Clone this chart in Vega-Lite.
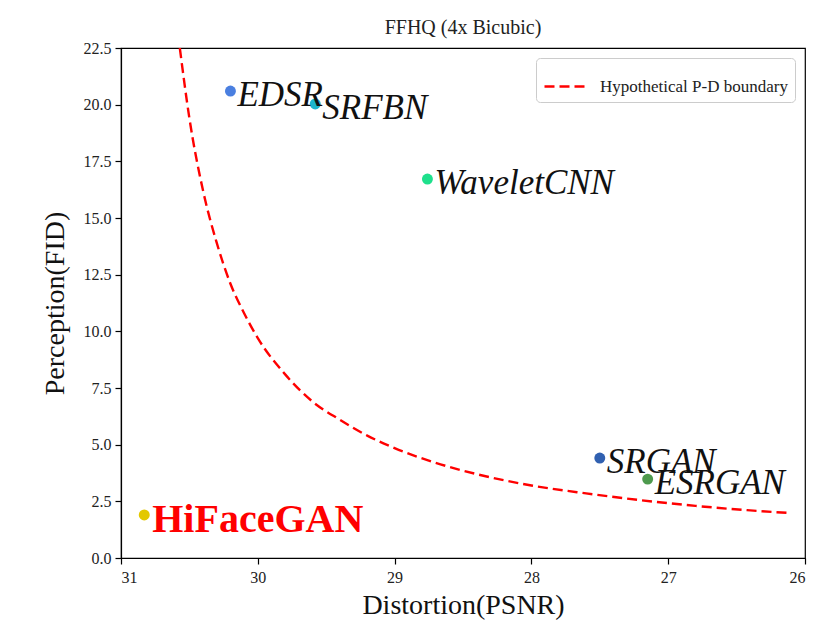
{
  "$schema": "https://vega.github.io/schema/vega-lite/v6.json",
  "width": 684,
  "height": 510,
  "autosize": {"type": "none"},
  "padding": {"left": 121, "top": 48, "right": 31, "bottom": 70},
  "background": "white",
  "config": {
    "font": "Liberation Serif",
    "view": {"stroke": "black", "strokeWidth": 1.2},
    "axis": {"grid": false, "domainColor": "black", "tickColor": "black", "domainWidth": 1.2, "tickWidth": 1.2, "tickSize": 6, "labelColor": "#222", "titleColor": "#111", "labelFont": "Liberation Serif", "titleFont": "Liberation Serif", "labelFontSize": 16, "titleFontSize": 28, "titleFontWeight": "normal"}
  },
  "title": {"text": "FFHQ (4x Bicubic)", "fontSize": 20, "fontWeight": "normal", "font": "Liberation Serif", "color": "#222", "offset": 2},
  "datasets": {
    "methods": [
      {"method": "EDSR", "psnr": 30.2, "fid": 20.6},
      {"method": "SRFBN", "psnr": 29.58, "fid": 20.03},
      {"method": "WaveletCNN", "psnr": 28.76, "fid": 16.72},
      {"method": "SRGAN", "psnr": 27.5, "fid": 4.41},
      {"method": "ESRGAN", "psnr": 27.15, "fid": 3.48},
      {"method": "HiFaceGAN", "psnr": 30.83, "fid": 1.9}
    ],
    "boundary": [
      {"series": "Hypothetical P-D boundary", "psnr": 30.57, "fid": 22.5},
      {"series": "Hypothetical P-D boundary", "psnr": 30.5, "fid": 19.4},
      {"series": "Hypothetical P-D boundary", "psnr": 30.4, "fid": 16.2},
      {"series": "Hypothetical P-D boundary", "psnr": 30.3, "fid": 13.9},
      {"series": "Hypothetical P-D boundary", "psnr": 30.2, "fid": 12.1},
      {"series": "Hypothetical P-D boundary", "psnr": 30.1, "fid": 10.8},
      {"series": "Hypothetical P-D boundary", "psnr": 30.0, "fid": 9.7},
      {"series": "Hypothetical P-D boundary", "psnr": 29.8, "fid": 8.1},
      {"series": "Hypothetical P-D boundary", "psnr": 29.6, "fid": 6.9},
      {"series": "Hypothetical P-D boundary", "psnr": 29.4, "fid": 6.1},
      {"series": "Hypothetical P-D boundary", "psnr": 29.2, "fid": 5.4},
      {"series": "Hypothetical P-D boundary", "psnr": 29.0, "fid": 4.85},
      {"series": "Hypothetical P-D boundary", "psnr": 28.7, "fid": 4.2},
      {"series": "Hypothetical P-D boundary", "psnr": 28.4, "fid": 3.7},
      {"series": "Hypothetical P-D boundary", "psnr": 28.0, "fid": 3.2},
      {"series": "Hypothetical P-D boundary", "psnr": 27.6, "fid": 2.85},
      {"series": "Hypothetical P-D boundary", "psnr": 27.2, "fid": 2.55},
      {"series": "Hypothetical P-D boundary", "psnr": 26.8, "fid": 2.3},
      {"series": "Hypothetical P-D boundary", "psnr": 26.4, "fid": 2.1},
      {"series": "Hypothetical P-D boundary", "psnr": 26.1, "fid": 1.98}
    ]
  },
  "layer": [
    {
      "data": {"name": "boundary"},
      "mark": {"type": "line", "strokeWidth": 2.4, "strokeDash": [10, 5], "interpolate": "monotone", "clip": true},
      "encoding": {
        "x": {"field": "psnr", "type": "quantitative", "scale": {"domain": [26, 31], "reverse": true, "nice": false, "zero": false}, "axis": {"values": [26, 27, 28, 29, 30, 31], "format": "d", "title": "Distortion(PSNR)", "labelPadding": 5, "titlePadding": 6}},
        "y": {"field": "fid", "type": "quantitative", "scale": {"domain": [0, 22.5], "nice": false}, "axis": {"values": [0, 2.5, 5, 7.5, 10, 12.5, 15, 17.5, 20, 22.5], "format": ".1f", "title": "Perception(FID)", "labelPadding": 4, "titlePadding": 14}},
        "stroke": {"field": "series", "type": "nominal", "scale": {"range": ["#ff0000"]}, "legend": {"title": null, "orient": "top-right", "offset": 10, "symbolType": "stroke", "symbolDash": [10, 5], "symbolStrokeWidth": 2.4, "symbolSize": 1600, "labelFontSize": 17, "labelFont": "Liberation Serif", "labelColor": "#222", "labelLimit": 400, "strokeColor": "#cccccc", "fillColor": "white", "cornerRadius": 4, "padding": 7, "labelOffset": 14}}
      }
    },
    {
      "data": {"name": "methods"},
      "mark": {"type": "circle", "size": 120, "opacity": 1},
      "encoding": {
        "x": {"field": "psnr", "type": "quantitative"},
        "y": {"field": "fid", "type": "quantitative"},
        "color": {"field": "method", "type": "nominal", "scale": {"domain": ["EDSR", "SRFBN", "WaveletCNN", "SRGAN", "ESRGAN", "HiFaceGAN"], "range": ["#4a7fe0", "#1cb5cc", "#1ee08c", "#3060b0", "#4e9a4e", "#e3c800"]}, "legend": null}
      }
    },
    {
      "data": {"name": "methods"},
      "transform": [{"filter": "datum.method !== 'HiFaceGAN'"}],
      "mark": {"type": "text", "align": "left", "baseline": "middle", "dx": 7, "dy": 4, "fontSize": 35, "fontStyle": "italic", "font": "Liberation Serif", "color": "#111"},
      "encoding": {
        "x": {"field": "psnr", "type": "quantitative"},
        "y": {"field": "fid", "type": "quantitative"},
        "text": {"field": "method"}
      }
    },
    {
      "data": {"name": "methods"},
      "transform": [{"filter": "datum.method === 'HiFaceGAN'"}],
      "mark": {"type": "text", "align": "left", "baseline": "middle", "dx": 8, "dy": 5, "fontSize": 40, "fontWeight": "bold", "font": "Liberation Serif", "color": "#ff0000"},
      "encoding": {
        "x": {"field": "psnr", "type": "quantitative"},
        "y": {"field": "fid", "type": "quantitative"},
        "text": {"field": "method"}
      }
    }
  ]
}
